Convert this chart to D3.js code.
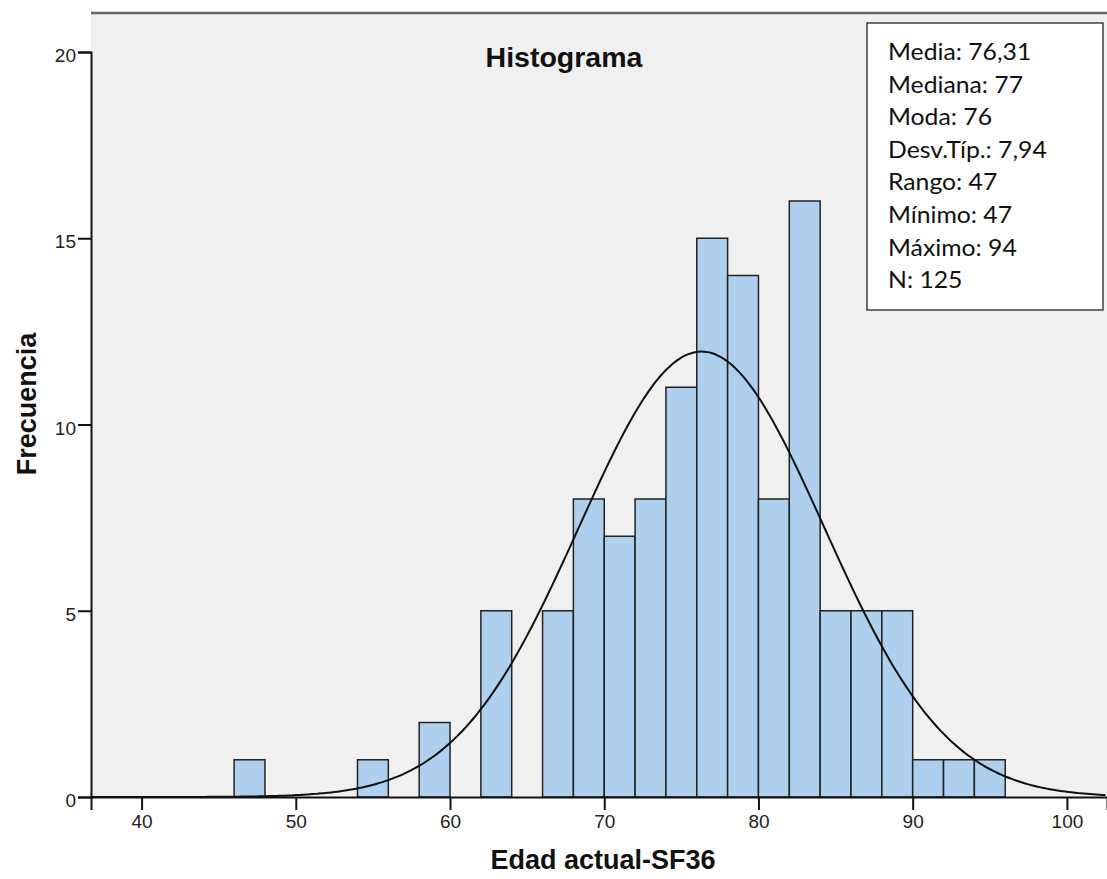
<!DOCTYPE html>
<html><head><meta charset="utf-8">
<script src="https://cdn.jsdelivr.net/npm/d3@7"></script>
<style>body{margin:0;background:#fff}svg{display:block}</style>
</head><body>
<script>
// Data
const binStarts = [46, 54, 58, 62, 66, 68, 70, 72, 74, 76, 78, 80, 82, 84, 86, 88, 90, 92, 94];
const counts    = [1, 1, 2, 5, 5, 8, 7, 8, 11, 15, 14, 8, 16, 5, 5, 5, 1, 1, 1];
const binWidth = 2;
const xTicks = [40, 50, 60, 70, 80, 90, 100];
const yTicks = [0, 5, 10, 15, 20];
const statLabels = ["Media: 76,31", "Mediana: 77", "Moda: 76", "Desv.Típ.: 7,94", "Rango: 47", "Mínimo: 47", "Máximo: 94", "N: 125"];
const mean = 76.31, sd = 7.94;

(function () {
const W = 1107, H = 879;
const mL = 91, mT = 13, mB = 797, mR = 1107;
const FONT = "Liberation Sans, Arial, sans-serif";
const svg = d3.select("body").append("svg").attr("width", W).attr("height", H);

const x = d3.scaleLinear().domain([36.72, 102.6]).range([mL, mR]);
const y = d3.scaleLinear().domain([0, 20]).range([mB, 52]);

svg.append("rect").attr("x", mL).attr("y", mT).attr("width", mR - mL).attr("height", mB - mT).attr("fill", "#f0f0f0");

// bars
svg.append("g").selectAll("rect").data(binStarts).join("rect")
  .attr("x", d => x(d)).attr("width", d => x(d + binWidth) - x(d))
  .attr("y", (d, i) => y(counts[i])).attr("height", (d, i) => y(0) - y(counts[i]))
  .attr("fill", "#aecfee").attr("stroke", "#222").attr("stroke-width", 1.5);

// normal curve
const total = d3.sum(counts);
const pts = d3.range(36.7, 102.7, 0.2).map(v => [v, total * binWidth * Math.exp(-0.5 * ((v - mean) / sd) ** 2) / (sd * Math.sqrt(2 * Math.PI))]);
svg.append("path").datum(pts)
  .attr("d", d3.line().x(d => x(d[0])).y(d => y(d[1])).curve(d3.curveBasis))
  .attr("fill", "none").attr("stroke", "#111").attr("stroke-width", 2);

// frame top
svg.append("line").attr("x1", mL).attr("x2", mR).attr("y1", mT).attr("y2", mT).attr("stroke", "#666").attr("stroke-width", 2.5);

// axes
const xa = svg.append("g").attr("transform", `translate(0,${mB})`)
  .call(d3.axisBottom(x).tickValues(xTicks).tickSize(13).tickPadding(5).tickFormat(d3.format("d")));
const ya = svg.append("g").attr("transform", `translate(${mL},0)`)
  .call(d3.axisLeft(y).tickValues(yTicks).tickSize(13).tickPadding(2).tickFormat(d3.format("d")));
[xa, ya].forEach(g => {
  g.attr("font-size", 19).attr("font-family", FONT);
  g.select(".domain").attr("stroke", "#111").attr("stroke-width", 2);
  g.selectAll(".tick line").attr("stroke", "#111").attr("stroke-width", 2);
  g.selectAll(".tick text").attr("fill", "#222");
});
ya.selectAll(".tick text").attr("dy", "0.5em");

// title
svg.append("text").attr("x", 564).attr("y", 67).attr("text-anchor", "middle")
  .attr("font-family", FONT).attr("font-weight", "bold").attr("font-size", 28.5).attr("fill", "#111").text("Histograma");

// axis titles
svg.append("text").attr("x", 603).attr("y", 869).attr("text-anchor", "middle")
  .attr("font-family", FONT).attr("font-weight", "bold").attr("font-size", 27).attr("fill", "#111").text("Edad actual-SF36");
svg.append("text").attr("transform", "translate(36,404) rotate(-90)").attr("text-anchor", "middle")
  .attr("font-family", FONT).attr("font-weight", "bold").attr("font-size", 27).attr("fill", "#111").text("Frecuencia");

// stats box
svg.append("rect").attr("x", 867).attr("y", 23).attr("width", 236).attr("height", 287)
  .attr("fill", "#fff").attr("stroke", "#111").attr("stroke-width", 1.2);
svg.append("g").selectAll("text").data(statLabels).join("text")
  .attr("transform", (d, i) => `translate(888,${60 + i * 32.6}) scale(1.1,1)`)
  .attr("font-family", "Lato, sans-serif").attr("font-size", 22.5).attr("fill", "#111").text(d => d);
})();
</script>
</body></html>
